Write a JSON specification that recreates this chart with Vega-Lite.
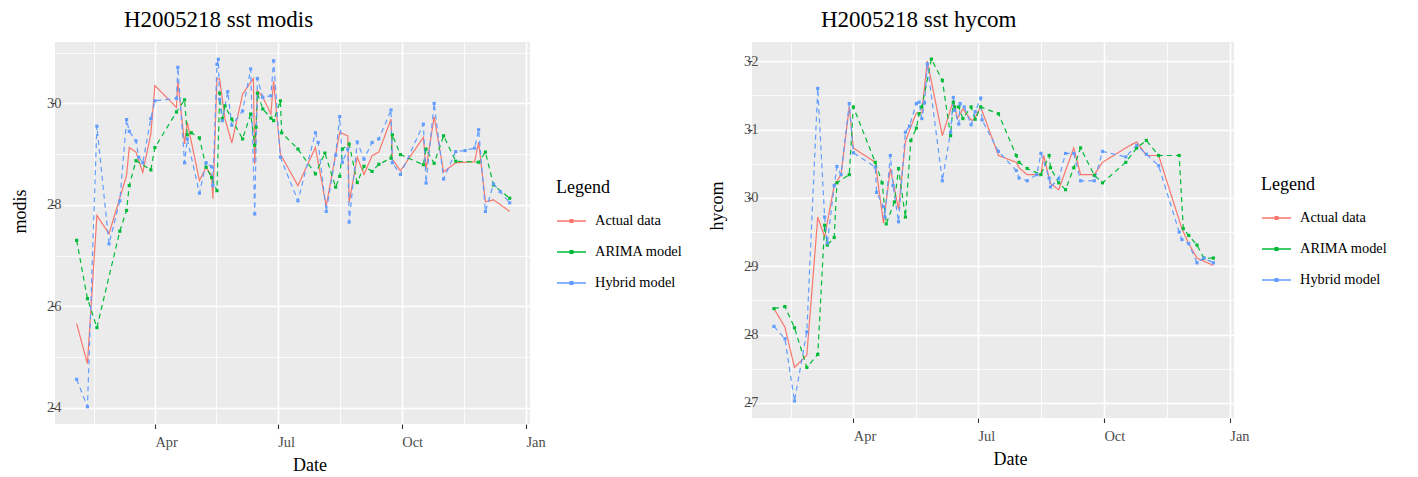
{
  "$schema": "https://vega.github.io/schema/vega-lite/v6.json",
  "background": "white",
  "padding": {"left": 11, "top": 9, "right": 5, "bottom": 5},
  "bounds": "flush",
  "spacing": 222,
  "resolve": {"legend": {"color": "independent", "shape": "independent"}},
  "datasets": {
    "modis": [
      {"date": "2020/02/03", "series": "Actual data", "value": 25.66},
      {"date": "2020/02/11", "series": "Actual data", "value": 24.87},
      {"date": "2020/02/18", "series": "Actual data", "value": 27.79},
      {"date": "2020/02/27", "series": "Actual data", "value": 27.43},
      {"date": "2020/03/11", "series": "Actual data", "value": 28.58},
      {"date": "2020/03/13", "series": "Actual data", "value": 29.13},
      {"date": "2020/03/18", "series": "Actual data", "value": 29.04},
      {"date": "2020/03/23", "series": "Actual data", "value": 28.64},
      {"date": "2020/03/29", "series": "Actual data", "value": 29.40},
      {"date": "2020/04/01", "series": "Actual data", "value": 30.35},
      {"date": "2020/04/17", "series": "Actual data", "value": 29.92},
      {"date": "2020/04/18", "series": "Actual data", "value": 30.43},
      {"date": "2020/04/23", "series": "Actual data", "value": 29.20},
      {"date": "2020/04/25", "series": "Actual data", "value": 29.63},
      {"date": "2020/05/04", "series": "Actual data", "value": 28.48},
      {"date": "2020/05/09", "series": "Actual data", "value": 28.74},
      {"date": "2020/05/13", "series": "Actual data", "value": 28.57},
      {"date": "2020/05/14", "series": "Actual data", "value": 28.12},
      {"date": "2020/05/17", "series": "Actual data", "value": 30.49},
      {"date": "2020/05/19", "series": "Actual data", "value": 30.48},
      {"date": "2020/05/23", "series": "Actual data", "value": 29.69},
      {"date": "2020/05/28", "series": "Actual data", "value": 29.22},
      {"date": "2020/06/05", "series": "Actual data", "value": 30.18},
      {"date": "2020/06/13", "series": "Actual data", "value": 30.49},
      {"date": "2020/06/14", "series": "Actual data", "value": 28.80},
      {"date": "2020/06/16", "series": "Actual data", "value": 30.25},
      {"date": "2020/06/20", "series": "Actual data", "value": 30.12},
      {"date": "2020/06/26", "series": "Actual data", "value": 29.79},
      {"date": "2020/06/28", "series": "Actual data", "value": 30.44},
      {"date": "2020/07/03", "series": "Actual data", "value": 29.00},
      {"date": "2020/07/16", "series": "Actual data", "value": 28.38},
      {"date": "2020/07/29", "series": "Actual data", "value": 29.13},
      {"date": "2020/08/06", "series": "Actual data", "value": 27.98},
      {"date": "2020/08/16", "series": "Actual data", "value": 29.43},
      {"date": "2020/08/22", "series": "Actual data", "value": 29.36},
      {"date": "2020/08/23", "series": "Actual data", "value": 28.05},
      {"date": "2020/08/29", "series": "Actual data", "value": 28.94},
      {"date": "2020/09/03", "series": "Actual data", "value": 28.60},
      {"date": "2020/09/09", "series": "Actual data", "value": 28.97},
      {"date": "2020/09/14", "series": "Actual data", "value": 29.04},
      {"date": "2020/09/23", "series": "Actual data", "value": 29.69},
      {"date": "2020/09/24", "series": "Actual data", "value": 28.90},
      {"date": "2020/09/30", "series": "Actual data", "value": 28.67},
      {"date": "2020/10/17", "series": "Actual data", "value": 29.33},
      {"date": "2020/10/19", "series": "Actual data", "value": 28.71},
      {"date": "2020/10/25", "series": "Actual data", "value": 29.74},
      {"date": "2020/11/01", "series": "Actual data", "value": 28.65},
      {"date": "2020/11/10", "series": "Actual data", "value": 28.83},
      {"date": "2020/11/24", "series": "Actual data", "value": 28.85},
      {"date": "2020/11/27", "series": "Actual data", "value": 29.23},
      {"date": "2020/12/02", "series": "Actual data", "value": 28.06},
      {"date": "2020/12/08", "series": "Actual data", "value": 28.10},
      {"date": "2020/12/20", "series": "Actual data", "value": 27.87},

      {"date": "2020/02/03", "series": "ARIMA model", "value": 27.30},
      {"date": "2020/02/11", "series": "ARIMA model", "value": 26.15},
      {"date": "2020/02/18", "series": "ARIMA model", "value": 25.58},
      {"date": "2020/03/06", "series": "ARIMA model", "value": 27.48},
      {"date": "2020/03/11", "series": "ARIMA model", "value": 27.89},
      {"date": "2020/03/13", "series": "ARIMA model", "value": 28.38},
      {"date": "2020/03/18", "series": "ARIMA model", "value": 28.87},
      {"date": "2020/03/29", "series": "ARIMA model", "value": 28.69},
      {"date": "2020/04/01", "series": "ARIMA model", "value": 29.13},
      {"date": "2020/04/17", "series": "ARIMA model", "value": 29.83},
      {"date": "2020/04/23", "series": "ARIMA model", "value": 30.07},
      {"date": "2020/04/25", "series": "ARIMA model", "value": 29.38},
      {"date": "2020/04/28", "series": "ARIMA model", "value": 29.42},
      {"date": "2020/05/04", "series": "ARIMA model", "value": 29.32},
      {"date": "2020/05/09", "series": "ARIMA model", "value": 28.74},
      {"date": "2020/05/13", "series": "ARIMA model", "value": 28.54},
      {"date": "2020/05/17", "series": "ARIMA model", "value": 28.28},
      {"date": "2020/05/19", "series": "ARIMA model", "value": 30.20},
      {"date": "2020/05/21", "series": "ARIMA model", "value": 29.70},
      {"date": "2020/05/23", "series": "ARIMA model", "value": 29.95},
      {"date": "2020/05/28", "series": "ARIMA model", "value": 29.69},
      {"date": "2020/06/05", "series": "ARIMA model", "value": 29.30},
      {"date": "2020/06/11", "series": "ARIMA model", "value": 29.79},
      {"date": "2020/06/14", "series": "ARIMA model", "value": 29.17},
      {"date": "2020/06/15", "series": "ARIMA model", "value": 29.53},
      {"date": "2020/06/16", "series": "ARIMA model", "value": 30.20},
      {"date": "2020/06/20", "series": "ARIMA model", "value": 29.89},
      {"date": "2020/06/26", "series": "ARIMA model", "value": 29.71},
      {"date": "2020/06/28", "series": "ARIMA model", "value": 29.66},
      {"date": "2020/07/03", "series": "ARIMA model", "value": 30.05},
      {"date": "2020/07/04", "series": "ARIMA model", "value": 29.42},
      {"date": "2020/07/16", "series": "ARIMA model", "value": 29.10},
      {"date": "2020/07/29", "series": "ARIMA model", "value": 28.61},
      {"date": "2020/08/05", "series": "ARIMA model", "value": 29.02},
      {"date": "2020/08/13", "series": "ARIMA model", "value": 28.35},
      {"date": "2020/08/16", "series": "ARIMA model", "value": 28.56},
      {"date": "2020/08/18", "series": "ARIMA model", "value": 29.10},
      {"date": "2020/08/23", "series": "ARIMA model", "value": 29.20},
      {"date": "2020/08/29", "series": "ARIMA model", "value": 28.44},
      {"date": "2020/09/03", "series": "ARIMA model", "value": 28.76},
      {"date": "2020/09/09", "series": "ARIMA model", "value": 28.66},
      {"date": "2020/09/14", "series": "ARIMA model", "value": 28.80},
      {"date": "2020/09/23", "series": "ARIMA model", "value": 28.92},
      {"date": "2020/09/24", "series": "ARIMA model", "value": 29.38},
      {"date": "2020/09/30", "series": "ARIMA model", "value": 28.99},
      {"date": "2020/10/17", "series": "ARIMA model", "value": 28.79},
      {"date": "2020/10/19", "series": "ARIMA model", "value": 29.10},
      {"date": "2020/10/25", "series": "ARIMA model", "value": 28.82},
      {"date": "2020/11/01", "series": "ARIMA model", "value": 29.36},
      {"date": "2020/11/10", "series": "ARIMA model", "value": 28.86},
      {"date": "2020/11/27", "series": "ARIMA model", "value": 28.84},
      {"date": "2020/12/02", "series": "ARIMA model", "value": 29.04},
      {"date": "2020/12/08", "series": "ARIMA model", "value": 28.39},
      {"date": "2020/12/20", "series": "ARIMA model", "value": 28.13},

      {"date": "2020/02/03", "series": "Hybrid model", "value": 24.56},
      {"date": "2020/02/11", "series": "Hybrid model", "value": 24.02},
      {"date": "2020/02/18", "series": "Hybrid model", "value": 29.55},
      {"date": "2020/02/27", "series": "Hybrid model", "value": 27.23},
      {"date": "2020/03/06", "series": "Hybrid model", "value": 28.08},
      {"date": "2020/03/11", "series": "Hybrid model", "value": 29.68},
      {"date": "2020/03/13", "series": "Hybrid model", "value": 29.45},
      {"date": "2020/03/18", "series": "Hybrid model", "value": 29.26},
      {"date": "2020/03/20", "series": "Hybrid model", "value": 28.94},
      {"date": "2020/03/23", "series": "Hybrid model", "value": 28.83},
      {"date": "2020/03/29", "series": "Hybrid model", "value": 29.70},
      {"date": "2020/04/01", "series": "Hybrid model", "value": 30.05},
      {"date": "2020/04/17", "series": "Hybrid model", "value": 30.10},
      {"date": "2020/04/18", "series": "Hybrid model", "value": 30.71},
      {"date": "2020/04/23", "series": "Hybrid model", "value": 28.83},
      {"date": "2020/04/25", "series": "Hybrid model", "value": 29.30},
      {"date": "2020/05/04", "series": "Hybrid model", "value": 28.23},
      {"date": "2020/05/09", "series": "Hybrid model", "value": 28.83},
      {"date": "2020/05/13", "series": "Hybrid model", "value": 28.75},
      {"date": "2020/05/14", "series": "Hybrid model", "value": 28.38},
      {"date": "2020/05/17", "series": "Hybrid model", "value": 30.77},
      {"date": "2020/05/18", "series": "Hybrid model", "value": 30.87},
      {"date": "2020/05/19", "series": "Hybrid model", "value": 30.08},
      {"date": "2020/05/21", "series": "Hybrid model", "value": 29.66},
      {"date": "2020/05/25", "series": "Hybrid model", "value": 30.23},
      {"date": "2020/05/28", "series": "Hybrid model", "value": 29.57},
      {"date": "2020/06/05", "series": "Hybrid model", "value": 29.85},
      {"date": "2020/06/11", "series": "Hybrid model", "value": 30.68},
      {"date": "2020/06/14", "series": "Hybrid model", "value": 27.82},
      {"date": "2020/06/16", "series": "Hybrid model", "value": 30.49},
      {"date": "2020/06/20", "series": "Hybrid model", "value": 30.12},
      {"date": "2020/06/26", "series": "Hybrid model", "value": 30.15},
      {"date": "2020/06/28", "series": "Hybrid model", "value": 30.84},
      {"date": "2020/07/03", "series": "Hybrid model", "value": 28.94},
      {"date": "2020/07/16", "series": "Hybrid model", "value": 28.08},
      {"date": "2020/07/29", "series": "Hybrid model", "value": 29.42},
      {"date": "2020/07/31", "series": "Hybrid model", "value": 29.23},
      {"date": "2020/08/06", "series": "Hybrid model", "value": 27.87},
      {"date": "2020/08/13", "series": "Hybrid model", "value": 28.98},
      {"date": "2020/08/16", "series": "Hybrid model", "value": 29.74},
      {"date": "2020/08/18", "series": "Hybrid model", "value": 28.84},
      {"date": "2020/08/22", "series": "Hybrid model", "value": 29.10},
      {"date": "2020/08/23", "series": "Hybrid model", "value": 27.66},
      {"date": "2020/08/29", "series": "Hybrid model", "value": 29.24},
      {"date": "2020/09/03", "series": "Hybrid model", "value": 28.90},
      {"date": "2020/09/09", "series": "Hybrid model", "value": 29.23},
      {"date": "2020/09/14", "series": "Hybrid model", "value": 29.30},
      {"date": "2020/09/23", "series": "Hybrid model", "value": 29.87},
      {"date": "2020/09/24", "series": "Hybrid model", "value": 28.83},
      {"date": "2020/09/30", "series": "Hybrid model", "value": 28.60},
      {"date": "2020/10/17", "series": "Hybrid model", "value": 29.59},
      {"date": "2020/10/19", "series": "Hybrid model", "value": 28.43},
      {"date": "2020/10/25", "series": "Hybrid model", "value": 30.00},
      {"date": "2020/11/01", "series": "Hybrid model", "value": 28.51},
      {"date": "2020/11/10", "series": "Hybrid model", "value": 29.05},
      {"date": "2020/11/17", "series": "Hybrid model", "value": 29.07},
      {"date": "2020/11/24", "series": "Hybrid model", "value": 29.12},
      {"date": "2020/11/27", "series": "Hybrid model", "value": 29.48},
      {"date": "2020/12/02", "series": "Hybrid model", "value": 27.87},
      {"date": "2020/12/08", "series": "Hybrid model", "value": 28.41},
      {"date": "2020/12/13", "series": "Hybrid model", "value": 28.26},
      {"date": "2020/12/20", "series": "Hybrid model", "value": 28.04}
    ],
    "hycom": [
      {"date": "2020/02/03", "series": "Actual data", "value": 28.38},
      {"date": "2020/02/11", "series": "Actual data", "value": 28.11},
      {"date": "2020/02/18", "series": "Actual data", "value": 27.52},
      {"date": "2020/02/27", "series": "Actual data", "value": 27.70},
      {"date": "2020/03/06", "series": "Actual data", "value": 29.72},
      {"date": "2020/03/11", "series": "Actual data", "value": 29.43},
      {"date": "2020/03/18", "series": "Actual data", "value": 30.18},
      {"date": "2020/03/23", "series": "Actual data", "value": 30.34},
      {"date": "2020/03/29", "series": "Actual data", "value": 31.33},
      {"date": "2020/04/01", "series": "Actual data", "value": 30.73},
      {"date": "2020/04/17", "series": "Actual data", "value": 30.52},
      {"date": "2020/04/23", "series": "Actual data", "value": 29.63},
      {"date": "2020/04/28", "series": "Actual data", "value": 30.43},
      {"date": "2020/05/04", "series": "Actual data", "value": 29.84},
      {"date": "2020/05/09", "series": "Actual data", "value": 30.82},
      {"date": "2020/05/13", "series": "Actual data", "value": 31.04},
      {"date": "2020/05/17", "series": "Actual data", "value": 31.24},
      {"date": "2020/05/21", "series": "Actual data", "value": 31.25},
      {"date": "2020/05/25", "series": "Actual data", "value": 32.00},
      {"date": "2020/06/05", "series": "Actual data", "value": 30.91},
      {"date": "2020/06/13", "series": "Actual data", "value": 31.42},
      {"date": "2020/06/16", "series": "Actual data", "value": 31.16},
      {"date": "2020/06/20", "series": "Actual data", "value": 31.30},
      {"date": "2020/06/26", "series": "Actual data", "value": 31.14},
      {"date": "2020/06/28", "series": "Actual data", "value": 31.14},
      {"date": "2020/07/03", "series": "Actual data", "value": 31.33},
      {"date": "2020/07/16", "series": "Actual data", "value": 30.62},
      {"date": "2020/07/29", "series": "Actual data", "value": 30.52},
      {"date": "2020/07/31", "series": "Actual data", "value": 30.44},
      {"date": "2020/08/06", "series": "Actual data", "value": 30.34},
      {"date": "2020/08/16", "series": "Actual data", "value": 30.34},
      {"date": "2020/08/18", "series": "Actual data", "value": 30.62},
      {"date": "2020/08/23", "series": "Actual data", "value": 30.21},
      {"date": "2020/08/29", "series": "Actual data", "value": 30.12},
      {"date": "2020/09/09", "series": "Actual data", "value": 30.73},
      {"date": "2020/09/14", "series": "Actual data", "value": 30.34},
      {"date": "2020/09/24", "series": "Actual data", "value": 30.34},
      {"date": "2020/09/30", "series": "Actual data", "value": 30.52},
      {"date": "2020/10/17", "series": "Actual data", "value": 30.73},
      {"date": "2020/10/25", "series": "Actual data", "value": 30.82},
      {"date": "2020/11/01", "series": "Actual data", "value": 30.62},
      {"date": "2020/11/10", "series": "Actual data", "value": 30.62},
      {"date": "2020/11/27", "series": "Actual data", "value": 29.55},
      {"date": "2020/12/02", "series": "Actual data", "value": 29.33},
      {"date": "2020/12/08", "series": "Actual data", "value": 29.12},
      {"date": "2020/12/20", "series": "Actual data", "value": 29.01},

      {"date": "2020/02/03", "series": "ARIMA model", "value": 28.38},
      {"date": "2020/02/11", "series": "ARIMA model", "value": 28.41},
      {"date": "2020/02/18", "series": "ARIMA model", "value": 28.10},
      {"date": "2020/02/27", "series": "ARIMA model", "value": 27.52},
      {"date": "2020/03/06", "series": "ARIMA model", "value": 27.71},
      {"date": "2020/03/11", "series": "ARIMA model", "value": 29.60},
      {"date": "2020/03/13", "series": "ARIMA model", "value": 29.31},
      {"date": "2020/03/18", "series": "ARIMA model", "value": 29.42},
      {"date": "2020/03/20", "series": "ARIMA model", "value": 30.22},
      {"date": "2020/03/29", "series": "ARIMA model", "value": 30.34},
      {"date": "2020/04/01", "series": "ARIMA model", "value": 31.33},
      {"date": "2020/04/17", "series": "ARIMA model", "value": 30.52},
      {"date": "2020/04/22", "series": "ARIMA model", "value": 30.22},
      {"date": "2020/04/25", "series": "ARIMA model", "value": 29.62},
      {"date": "2020/05/01", "series": "ARIMA model", "value": 29.94},
      {"date": "2020/05/04", "series": "ARIMA model", "value": 30.43},
      {"date": "2020/05/09", "series": "ARIMA model", "value": 29.72},
      {"date": "2020/05/13", "series": "ARIMA model", "value": 30.84},
      {"date": "2020/05/17", "series": "ARIMA model", "value": 31.02},
      {"date": "2020/05/19", "series": "ARIMA model", "value": 31.23},
      {"date": "2020/05/21", "series": "ARIMA model", "value": 31.33},
      {"date": "2020/05/28", "series": "ARIMA model", "value": 32.03},
      {"date": "2020/06/05", "series": "ARIMA model", "value": 31.72},
      {"date": "2020/06/11", "series": "ARIMA model", "value": 30.91},
      {"date": "2020/06/13", "series": "ARIMA model", "value": 31.40},
      {"date": "2020/06/14", "series": "ARIMA model", "value": 31.33},
      {"date": "2020/06/17", "series": "ARIMA model", "value": 31.33},
      {"date": "2020/06/20", "series": "ARIMA model", "value": 31.16},
      {"date": "2020/06/26", "series": "ARIMA model", "value": 31.33},
      {"date": "2020/06/29", "series": "ARIMA model", "value": 31.15},
      {"date": "2020/07/03", "series": "ARIMA model", "value": 31.33},
      {"date": "2020/07/16", "series": "ARIMA model", "value": 31.23},
      {"date": "2020/07/29", "series": "ARIMA model", "value": 30.62},
      {"date": "2020/07/31", "series": "ARIMA model", "value": 30.52},
      {"date": "2020/08/06", "series": "ARIMA model", "value": 30.43},
      {"date": "2020/08/16", "series": "ARIMA model", "value": 30.34},
      {"date": "2020/08/22", "series": "ARIMA model", "value": 30.62},
      {"date": "2020/08/23", "series": "ARIMA model", "value": 30.44},
      {"date": "2020/08/29", "series": "ARIMA model", "value": 30.22},
      {"date": "2020/09/03", "series": "ARIMA model", "value": 30.12},
      {"date": "2020/09/09", "series": "ARIMA model", "value": 30.44},
      {"date": "2020/09/14", "series": "ARIMA model", "value": 30.73},
      {"date": "2020/09/24", "series": "ARIMA model", "value": 30.33},
      {"date": "2020/09/30", "series": "ARIMA model", "value": 30.22},
      {"date": "2020/10/17", "series": "ARIMA model", "value": 30.52},
      {"date": "2020/10/25", "series": "ARIMA model", "value": 30.73},
      {"date": "2020/11/01", "series": "ARIMA model", "value": 30.84},
      {"date": "2020/11/10", "series": "ARIMA model", "value": 30.62},
      {"date": "2020/11/25", "series": "ARIMA model", "value": 30.62},
      {"date": "2020/11/28", "series": "ARIMA model", "value": 29.55},
      {"date": "2020/12/02", "series": "ARIMA model", "value": 29.45},
      {"date": "2020/12/08", "series": "ARIMA model", "value": 29.31},
      {"date": "2020/12/13", "series": "ARIMA model", "value": 29.12},
      {"date": "2020/12/20", "series": "ARIMA model", "value": 29.12},

      {"date": "2020/02/03", "series": "Hybrid model", "value": 28.12},
      {"date": "2020/02/11", "series": "Hybrid model", "value": 27.94},
      {"date": "2020/02/18", "series": "Hybrid model", "value": 27.03},
      {"date": "2020/02/27", "series": "Hybrid model", "value": 28.04},
      {"date": "2020/03/06", "series": "Hybrid model", "value": 31.60},
      {"date": "2020/03/11", "series": "Hybrid model", "value": 29.72},
      {"date": "2020/03/13", "series": "Hybrid model", "value": 29.34},
      {"date": "2020/03/18", "series": "Hybrid model", "value": 30.18},
      {"date": "2020/03/20", "series": "Hybrid model", "value": 30.46},
      {"date": "2020/03/23", "series": "Hybrid model", "value": 30.34},
      {"date": "2020/03/29", "series": "Hybrid model", "value": 31.38},
      {"date": "2020/04/01", "series": "Hybrid model", "value": 30.66},
      {"date": "2020/04/17", "series": "Hybrid model", "value": 30.45},
      {"date": "2020/04/18", "series": "Hybrid model", "value": 30.08},
      {"date": "2020/04/23", "series": "Hybrid model", "value": 29.87},
      {"date": "2020/04/24", "series": "Hybrid model", "value": 29.72},
      {"date": "2020/04/28", "series": "Hybrid model", "value": 30.62},
      {"date": "2020/04/30", "series": "Hybrid model", "value": 30.18},
      {"date": "2020/05/04", "series": "Hybrid model", "value": 29.65},
      {"date": "2020/05/09", "series": "Hybrid model", "value": 30.96},
      {"date": "2020/05/12", "series": "Hybrid model", "value": 31.05},
      {"date": "2020/05/17", "series": "Hybrid model", "value": 31.38},
      {"date": "2020/05/19", "series": "Hybrid model", "value": 31.40},
      {"date": "2020/05/21", "series": "Hybrid model", "value": 31.16},
      {"date": "2020/05/23", "series": "Hybrid model", "value": 31.39},
      {"date": "2020/05/25", "series": "Hybrid model", "value": 31.96},
      {"date": "2020/06/05", "series": "Hybrid model", "value": 30.25},
      {"date": "2020/06/11", "series": "Hybrid model", "value": 30.96},
      {"date": "2020/06/13", "series": "Hybrid model", "value": 31.47},
      {"date": "2020/06/14", "series": "Hybrid model", "value": 31.28},
      {"date": "2020/06/17", "series": "Hybrid model", "value": 31.08},
      {"date": "2020/06/18", "series": "Hybrid model", "value": 31.38},
      {"date": "2020/06/21", "series": "Hybrid model", "value": 31.33},
      {"date": "2020/06/26", "series": "Hybrid model", "value": 31.07},
      {"date": "2020/06/29", "series": "Hybrid model", "value": 31.26},
      {"date": "2020/07/03", "series": "Hybrid model", "value": 31.46},
      {"date": "2020/07/04", "series": "Hybrid model", "value": 31.14},
      {"date": "2020/07/16", "series": "Hybrid model", "value": 30.68},
      {"date": "2020/07/29", "series": "Hybrid model", "value": 30.40},
      {"date": "2020/07/31", "series": "Hybrid model", "value": 30.29},
      {"date": "2020/08/06", "series": "Hybrid model", "value": 30.25},
      {"date": "2020/08/13", "series": "Hybrid model", "value": 30.34},
      {"date": "2020/08/16", "series": "Hybrid model", "value": 30.65},
      {"date": "2020/08/22", "series": "Hybrid model", "value": 30.29},
      {"date": "2020/08/23", "series": "Hybrid model", "value": 30.16},
      {"date": "2020/08/29", "series": "Hybrid model", "value": 30.28},
      {"date": "2020/09/03", "series": "Hybrid model", "value": 30.65},
      {"date": "2020/09/09", "series": "Hybrid model", "value": 30.65},
      {"date": "2020/09/14", "series": "Hybrid model", "value": 30.25},
      {"date": "2020/09/24", "series": "Hybrid model", "value": 30.25},
      {"date": "2020/09/30", "series": "Hybrid model", "value": 30.68},
      {"date": "2020/10/17", "series": "Hybrid model", "value": 30.60},
      {"date": "2020/10/25", "series": "Hybrid model", "value": 30.77},
      {"date": "2020/11/01", "series": "Hybrid model", "value": 30.64},
      {"date": "2020/11/10", "series": "Hybrid model", "value": 30.47},
      {"date": "2020/11/25", "series": "Hybrid model", "value": 29.50},
      {"date": "2020/11/27", "series": "Hybrid model", "value": 29.39},
      {"date": "2020/12/02", "series": "Hybrid model", "value": 29.33},
      {"date": "2020/12/08", "series": "Hybrid model", "value": 29.05},
      {"date": "2020/12/13", "series": "Hybrid model", "value": 29.12},
      {"date": "2020/12/20", "series": "Hybrid model", "value": 29.05}
    ]
  },
  "hconcat": [
    {
      "width": 475,
      "height": 382,
      "data": {"name": "modis"},
      "title": {"text": "H2005218 sst modis", "anchor": "start", "dx": 69, "frame": "group"},
      "encoding": {
        "x": {
          "field": "date", "type": "temporal", "title": "Date",
          "scale": {"domain": [{"year": 2020, "month": 1, "date": 17, "hours": 23}, {"year": 2021, "month": 1, "date": 4, "hours": 1}]},
          "axis": {
            "values": [{"year": 2020, "month": 2, "date": 15, "hours": 12}, {"year": 2020, "month": 4, "date": 1}, {"year": 2020, "month": 5, "date": 16, "hours": 12}, {"year": 2020, "month": 7, "date": 1}, {"year": 2020, "month": 8, "date": 16}, {"year": 2020, "month": 10, "date": 1}, {"year": 2020, "month": 11, "date": 16}, {"year": 2021, "month": 1, "date": 1}],
            "labelExpr": "date(datum.value) == 1 ? timeFormat(datum.value, '%b') : ''",
            "labelAlign": "left", "labelPadding": 7, "titleAlign": "left", "titlePadding": 8,
            "gridWidth": {"condition": {"test": "date(datum.value) == 1", "value": 1.6}, "value": 0.8},
            "tickOpacity": {"condition": {"test": "date(datum.value) == 1", "value": 1}, "value": 0}
          }
        },
        "y": {
          "field": "value", "type": "quantitative", "title": "modis",
          "scale": {"domain": [23.68, 31.21], "nice": false, "zero": false},
          "axis": {
            "values": [24, 25, 26, 27, 28, 29, 30, 31],
            "labelExpr": "datum.value % 2 == 0 ? format(datum.value, 'd') : ''",
            "labelAlign": "left", "labelBaseline": "middle", "labelPadding": 3.9, "titleAlign": "left", "titlePadding": 17,
            "gridWidth": {"condition": {"test": "datum.value % 2 == 0", "value": 1.6}, "value": 0.8},
            "tickOpacity": {"condition": {"test": "datum.value % 2 == 0", "value": 1}, "value": 0}
          }
        },
        "color": {
          "field": "series", "type": "nominal",
          "scale": {"domain": ["Actual data", "ARIMA model", "Hybrid model"], "range": ["#F8766D", "#00BA38", "#619CFF"]},
          "legend": {"title": "Legend", "orient": "none", "legendX": 501, "legendY": 137, "zindex": 2,
            "symbolType": "M-1,0H1M0,-1L0,-1M0,1L0,1M-0.1,-0.1H0.1V0.1H-0.1Z", "symbolSize": 841, "symbolStrokeWidth": 1.3,
            "encode": {"symbols": {"update": {"opacity": {"value": 1}, "fill": {"value": "transparent"}, "strokeJoin": {"value": "round"}}}}}
        }
      },
      "layer": [
        {
          "mark": {"type": "line", "strokeWidth": 1.2},
          "encoding": {
            "strokeDash": {"field": "series", "type": "nominal", "legend": null,
              "scale": {"domain": ["Actual data", "ARIMA model", "Hybrid model"], "range": [[1, 0], [5, 4], [5, 4]]}}
          }
        },
        {
          "transform": [{"filter": "datum.series != 'Actual data'"}],
          "mark": {"type": "point", "shape": "square", "filled": true, "size": 10, "opacity": 1}
        },
        {
          "mark": {"type": "point", "filled": true, "size": 1, "opacity": 0},
          "encoding": {
            "shape": {"field": "series", "type": "nominal", "scale": {"range": ["square"]},
              "legend": {"title": " ", "orient": "none", "legendX": 501, "legendY": 137, "zindex": 1,
                "labelExpr": "''", "symbolStrokeWidth": 1.3,
                "encode": {"symbols": {"update": {"fill": {"value": "#F2F2F2"}, "stroke": {"value": "#F2F2F2"}, "strokeWidth": {"value": 1.3}, "strokeJoin": {"value": "round"}, "opacity": {"value": 1}, "size": {"value": 841}, "shape": {"value": "square"}}}}}}
          }
        }
      ]
    },
    {
      "width": 482,
      "height": 376,
      "data": {"name": "hycom"},
      "title": {"text": "H2005218 sst hycom", "anchor": "start", "dx": 69, "frame": "group"},
      "encoding": {
        "x": {
          "field": "date", "type": "temporal", "title": "Date",
          "scale": {"domain": [{"year": 2020, "month": 1, "date": 17, "hours": 23}, {"year": 2021, "month": 1, "date": 4, "hours": 1}]},
          "axis": {
            "values": [{"year": 2020, "month": 2, "date": 15, "hours": 12}, {"year": 2020, "month": 4, "date": 1}, {"year": 2020, "month": 5, "date": 16, "hours": 12}, {"year": 2020, "month": 7, "date": 1}, {"year": 2020, "month": 8, "date": 16}, {"year": 2020, "month": 10, "date": 1}, {"year": 2020, "month": 11, "date": 16}, {"year": 2021, "month": 1, "date": 1}],
            "labelExpr": "date(datum.value) == 1 ? timeFormat(datum.value, '%b') : ''",
            "labelAlign": "left", "labelPadding": 7, "titleAlign": "left", "titlePadding": 8,
            "gridWidth": {"condition": {"test": "date(datum.value) == 1", "value": 1.6}, "value": 0.8},
            "tickOpacity": {"condition": {"test": "date(datum.value) == 1", "value": 1}, "value": 0}
          }
        },
        "y": {
          "field": "value", "type": "quantitative", "title": "hycom",
          "scale": {"domain": [26.78, 32.28], "nice": false, "zero": false},
          "axis": {
            "values": [27, 27.5, 28, 28.5, 29, 29.5, 30, 30.5, 31, 31.5, 32],
            "labelExpr": "datum.value % 1 == 0 ? format(datum.value, 'd') : ''",
            "labelAlign": "left", "labelBaseline": "middle", "labelPadding": 3.9, "titleAlign": "left", "titlePadding": 17,
            "gridWidth": {"condition": {"test": "datum.value % 1 == 0", "value": 1.6}, "value": 0.8},
            "tickOpacity": {"condition": {"test": "datum.value % 1 == 0", "value": 1}, "value": 0}
          }
        },
        "color": {
          "field": "series", "type": "nominal",
          "scale": {"domain": ["Actual data", "ARIMA model", "Hybrid model"], "range": ["#F8766D", "#00BA38", "#619CFF"]},
          "legend": {"title": "Legend", "orient": "none", "legendX": 509, "legendY": 134, "zindex": 2,
            "symbolType": "M-1,0H1M0,-1L0,-1M0,1L0,1M-0.1,-0.1H0.1V0.1H-0.1Z", "symbolSize": 841, "symbolStrokeWidth": 1.3,
            "encode": {"symbols": {"update": {"opacity": {"value": 1}, "fill": {"value": "transparent"}, "strokeJoin": {"value": "round"}}}}}
        }
      },
      "layer": [
        {
          "mark": {"type": "line", "strokeWidth": 1.2},
          "encoding": {
            "strokeDash": {"field": "series", "type": "nominal", "legend": null,
              "scale": {"domain": ["Actual data", "ARIMA model", "Hybrid model"], "range": [[1, 0], [5, 4], [5, 4]]}}
          }
        },
        {
          "transform": [{"filter": "datum.series != 'Actual data'"}],
          "mark": {"type": "point", "shape": "square", "filled": true, "size": 10, "opacity": 1}
        },
        {
          "mark": {"type": "point", "filled": true, "size": 1, "opacity": 0},
          "encoding": {
            "shape": {"field": "series", "type": "nominal", "scale": {"range": ["square"]},
              "legend": {"title": " ", "orient": "none", "legendX": 509, "legendY": 134, "zindex": 1,
                "labelExpr": "''", "symbolStrokeWidth": 1.3,
                "encode": {"symbols": {"update": {"fill": {"value": "#F2F2F2"}, "stroke": {"value": "#F2F2F2"}, "strokeWidth": {"value": 1.3}, "strokeJoin": {"value": "round"}, "opacity": {"value": 1}, "size": {"value": 841}, "shape": {"value": "square"}}}}}}
          }
        }
      ]
    }
  ],
  "config": {
    "font": "Liberation Serif",
    "view": {"fill": "#EBEBEB", "stroke": null},
    "axis": {
      "domain": false, "gridColor": "#FFFFFF", "tickColor": "#333333", "tickSize": 4.5, "tickWidth": 1.1,
      "labelFont": "Liberation Serif", "labelFontSize": 14.4, "labelColor": "#4D4D4D",
      "titleFont": "Liberation Serif", "titleFontSize": 18, "titleFontWeight": "normal", "titleColor": "#000000",
      "labelOverlap": false, "labelFlush": false, "labelBound": false
    },
    "legend": {
      "titleFont": "Liberation Serif", "titleFontSize": 18, "titleFontWeight": "normal", "titleColor": "#000000", "titlePadding": 8.5,
      "labelFont": "Liberation Serif", "labelFontSize": 14.4, "labelColor": "#000000", "labelOffset": 8,
      "symbolSize": 841, "rowPadding": 0
    },
    "title": {"font": "Liberation Serif", "fontSize": 23, "fontWeight": "normal", "color": "#000000", "offset": 10}
  }
}
